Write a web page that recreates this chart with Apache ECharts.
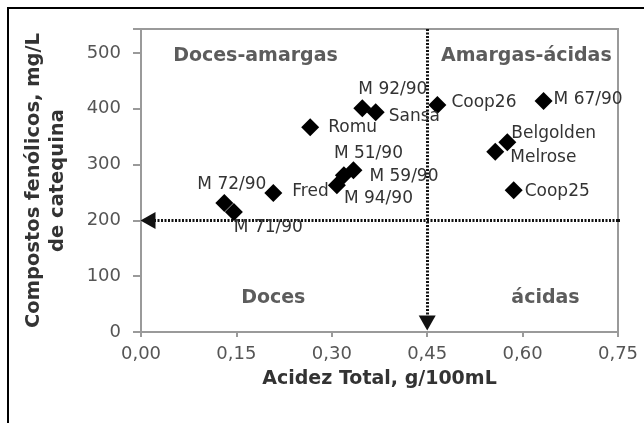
<!DOCTYPE html>
<html>
<head>
<meta charset="utf-8">
<script src="https://cdn.jsdelivr.net/npm/echarts@6/dist/echarts.min.js"></script>
<style>html,body{margin:0;padding:0;background:#fff;}#c{width:644px;height:423px;}</style>
</head>
<body>
<div id="c"></div>
<script>
// ---- data ----
const cultivars = ['M 72/90','M 71/90','Fred','M 94/90','M 51/90','M 59/90','Romu','M 92/90','Sansa','Coop26','M 67/90','Melrose','Belgolden','Coop25'];
const acidity   = [0.131, 0.146, 0.208, 0.308, 0.319, 0.334, 0.266, 0.348, 0.369, 0.466, 0.633, 0.557, 0.576, 0.586];
const phenolics = [231, 215, 249, 263, 281, 290, 367, 401, 394, 407, 414, 323, 340, 254];

const quadrantNames = ['Doces-amargas','Amargas-ácidas','Doces','ácidas'];
const quadrantX = [0.180, 0.606, 0.208, 0.636];
const quadrantY = [495, 495, 61, 61];

const xTicks = [0, 0.15, 0.30, 0.45, 0.60, 0.75];
const yTicks = [0, 100, 200, 300, 400, 500];
const acidityCut = 0.45;
const phenolicCut = 200;
const cutLineEnd = 0.77;   // horizontal divider runs slightly past the plot
const arrowTipX = 0.011;   // arrowhead centres
const arrowTipY = 16;

// ---- label placement (style only) ----
const labelOffset = {
  'M 72/90':[-41,-19],'M 71/90':[-14,16],'Fred':[5,-1],'M 94/90':[-7,13],
  'M 51/90':[-24,-22],'M 59/90':[2,6],'Romu':[4,0],'M 92/90':[-18,-19],
  'Sansa':[-1,4],'Coop26':[0,-2],'M 67/90':[-4,-1],'Belgolden':[-10,-9],
  'Melrose':[1,6],'Coop25':[-3,1]
};

const pts = cultivars.map((n,i)=>({
  name:n, value:[acidity[i], phenolics[i]],
  label:{offset: labelOffset[n] || [0,0]}
}));
const quads = quadrantNames.map((n,i)=>({name:n, value:[quadrantX[i], quadrantY[i]]}));
const xMax = xTicks[xTicks.length-1];
const yMax = 543;

const F = 'DejaVu Sans';
const cutStyle = {color:'#111', width:3, type:[2,1.5]};
const chart = echarts.init(document.getElementById('c'));
chart.setOption({
  animation:false,
  backgroundColor:'#fff',
  grid:{left:141, right:26, top:29, bottom:91, show:true, borderColor:'#9a9a9a', borderWidth:2,
        containLabel:false, outerBoundsMode:'none'},
  xAxis:{
    type:'value', min:xTicks[0], max:xMax, interval:0.15,
    splitLine:{show:false},
    axisLine:{show:true, onZero:false, lineStyle:{color:'#9a9a9a', width:2}},
    axisTick:{show:true, length:5, lineStyle:{color:'#9a9a9a', width:2}},
    axisLabel:{margin:13, color:'#555', fontFamily:F, fontSize:18, hideOverlap:false,
      formatter:v=>v.toFixed(2).replace('.',',')},
    name:'Acidez Total, g/100mL', nameLocation:'middle', nameGap:38,
    nameTextStyle:{fontFamily:F, fontWeight:'bold', fontSize:19, color:'#333'}
  },
  yAxis:{
    type:'value', min:yTicks[0], max:yMax, interval:100,
    splitLine:{show:false},
    axisLine:{show:true, onZero:false, lineStyle:{color:'#9a9a9a', width:2}},
    axisTick:{show:true, length:8, lineStyle:{color:'#9a9a9a', width:2}},
    axisLabel:{margin:20, color:'#555', fontFamily:F, fontSize:18,
      formatter:v=>(yTicks.indexOf(v)>=0 ? String(v) : '')},
    name:'Compostos fenólicos, mg/L\nde catequina', nameLocation:'middle', nameGap:71,
    nameTextStyle:{fontFamily:F, fontWeight:'bold', fontSize:19.5, color:'#333', lineHeight:24, align:'center'}
  },
  graphic:[{
    type:'rect', shape:{x:8, y:8, width:800, height:600},
    style:{fill:'none', stroke:'#000', lineWidth:2}, silent:true
  }],
  series:[
    {
      type:'line', name:'cutExt', data:[[xMax, phenolicCut],[cutLineEnd, phenolicCut]],
      clip:false, silent:true, symbol:'none', lineStyle:cutStyle, z:3
    },
    {
      type:'scatter', name:'lines', data:[], clip:false, silent:true,
      markLine:{
        silent:true, animation:false,
        symbol:['none','triangle'], symbolSize:[17,15],
        label:{show:false},
        lineStyle:cutStyle,
        itemStyle:{color:'#111'},
        emphasis:{disabled:true},
        data:[
          [{coord:[xMax, phenolicCut]}, {coord:[arrowTipX, phenolicCut]}],
          [{coord:[acidityCut, yMax]}, {coord:[acidityCut, arrowTipY]}]
        ]
      }
    },
    {
      type:'scatter', name:'quadrants', data:quads, symbolSize:0, silent:true,
      label:{show:true, position:'inside', formatter:'{b}', fontFamily:F, fontWeight:'bold', fontSize:19, color:'#333'}
    },
    {
      type:'scatter', name:'cultivars', data:pts, symbol:'diamond', symbolSize:18,
      itemStyle:{color:'#000', opacity:1}, silent:true, z:5,
      label:{show:true, position:'right', formatter:'{b}', fontFamily:F, fontSize:17, color:'#333'}
    }
  ]
});
</script>
</body>
</html>
